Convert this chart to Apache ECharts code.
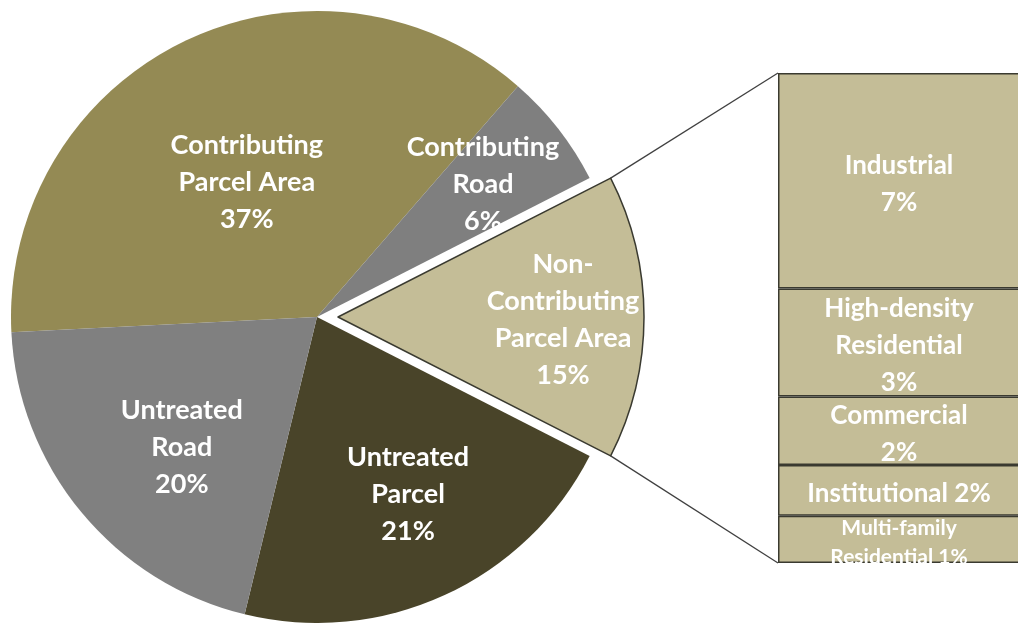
<!DOCTYPE html>
<html>
<head>
<meta charset="utf-8">
<script src="https://cdn.jsdelivr.net/npm/echarts@6/dist/echarts.min.js"></script>
<style>
  html, body { margin: 0; padding: 0; background: #ffffff; overflow: hidden; }
  #chart { width: 1018px; height: 623px; }
</style>
</head>
<body>
<div id="chart"></div>
<script>
// Share of total area (%) by treatment category
const pieNames = [
  'Contributing\nParcel Area',
  'Contributing\nRoad',
  'Non-\nContributing\nParcel Area',
  'Untreated\nParcel',
  'Untreated\nRoad'
];
const pieColors = ['#948A54', '#7F7F7F', '#C4BD97', '#494429', '#808080'];

// Breakdown of the non-contributing parcel area by land use (%)
const subNames = ['Industrial', 'High-density\nResidential', 'Commercial', 'Institutional', 'Multi-family\nResidential'];
const subValues = [6.6, 3.3, 2.1, 1.55, 1.45];
const subLabelSep = ['\n', '\n', '\n', ' ', ' '];

const nonContrib = subValues.reduce((a, b) => a + b, 0);
const pieValues = [37.2, 6.1, nonContrib, 21.3, 20.4];
const EXPLODED = 2;

// layout
const CX = 317, CY = 317, R = 306, EXPLODE_OFFSET = 21;
const BAR_LEFT = 778, BAR_TOP = 73, BAR_WIDTH = 250, BAR_HEIGHT = 490;
const pieLabelOffsets = [[-2, 6], [43, -37], [69, 3], [26, 36], [-15, 31]];
const FONT = 'Lato, "Open Sans", sans-serif';

const total = pieValues.reduce((a, b) => a + b, 0);
// rotate so the exploded slice is centred on the horizontal axis to the right
const before = pieValues.slice(0, EXPLODED).reduce((a, b) => a + b, 0);
const startAngle = (before + pieValues[EXPLODED] / 2) / total * 360;

const pieData = pieValues.map((v, i) => {
  const item = {
    value: v,
    name: pieNames[i],
    itemStyle: { color: pieColors[i] },
    label: { offset: pieLabelOffsets[i] }
  };
  if (i === EXPLODED) {
    item.selected = true;
    item.itemStyle.borderColor = '#3a3a30';
    item.itemStyle.borderWidth = 1.5;
    item.select = {
      itemStyle: { color: pieColors[i], borderColor: '#3a3a30', borderWidth: 1.5 },
      label: { offset: pieLabelOffsets[i] }
    };
  }
  return item;
});

const barSeries = subValues.map((v, i) => ({
  type: 'bar',
  name: subNames[i],
  stack: 'breakdown',
  barWidth: '100%',
  data: [v],
  silent: true,
  itemStyle: { color: '#C4BD97', borderColor: '#3a3a30', borderWidth: 1.5 },
  label: {
    show: true,
    position: 'inside',
    color: '#ffffff',
    fontFamily: FONT,
    fontWeight: 'bold',
    fontSize: i === 4 ? 21 : 26,
    lineHeight: i === 4 ? 29 : 37,
    offset: [-4, 3],
    formatter: () => subNames[i] + subLabelSep[i] + Math.round(v) + '%'
  }
}));

// connector lines from the exploded slice corners to the breakdown bar
const a0 = (startAngle - before / total * 360) * Math.PI / 180;
const a1 = (startAngle - (before + pieValues[EXPLODED]) / total * 360) * Math.PI / 180;
const ax = CX + EXPLODE_OFFSET * Math.cos((a0 + a1) / 2);
const ay = CY - EXPLODE_OFFSET * Math.sin((a0 + a1) / 2);
const topCorner = [ax + R * Math.cos(a0), ay - R * Math.sin(a0)];
const botCorner = [ax + R * Math.cos(a1), ay - R * Math.sin(a1)];

const chart = echarts.init(document.getElementById('chart'), null, { renderer: 'canvas' });
chart.setOption({
  animation: false,
  backgroundColor: '#ffffff',
  grid: {
    left: BAR_LEFT, top: BAR_TOP, width: BAR_WIDTH, height: BAR_HEIGHT,
    containLabel: false, outerBoundsMode: 'none'
  },
  xAxis: { type: 'category', data: ['Non-Contributing Parcel Area'], show: false },
  yAxis: { type: 'value', min: 0, max: nonContrib, inverse: true, show: false },
  graphic: [
    { type: 'line', shape: { x1: topCorner[0], y1: topCorner[1], x2: BAR_LEFT, y2: BAR_TOP },
      style: { stroke: '#404040', lineWidth: 1.3 }, z: 1 },
    { type: 'line', shape: { x1: botCorner[0], y1: botCorner[1], x2: BAR_LEFT, y2: BAR_TOP + BAR_HEIGHT },
      style: { stroke: '#404040', lineWidth: 1.3 }, z: 1 }
  ],
  series: [
    {
      type: 'pie',
      center: [CX, CY],
      radius: R,
      startAngle: startAngle,
      clockwise: true,
      selectedMode: 'single',
      selectedOffset: EXPLODE_OFFSET,
      silent: true,
      emphasis: { disabled: true },
      data: pieData,
      label: {
        show: true,
        position: 'inside',
        color: '#ffffff',
        fontFamily: FONT,
        fontWeight: 'bold',
        fontSize: 27,
        lineHeight: 37,
        formatter: p => p.name + '\n' + Math.round(p.value) + '%'
      },
      labelLine: { show: false }
    },
    ...barSeries
  ]
});
</script>
</body>
</html>
